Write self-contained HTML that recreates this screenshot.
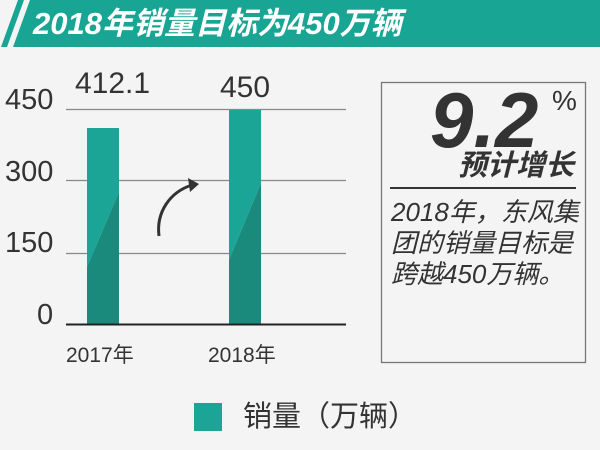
<!DOCTYPE html>
<html><head><meta charset="utf-8"><style>
html,body{margin:0;padding:0}
body{width:600px;height:450px;background:#f4f4f4;position:relative;overflow:hidden;font-family:"Liberation Sans","Noto Sans CJK SC",sans-serif;color:#333}
.a{position:absolute;white-space:nowrap}
</style></head><body>
<svg class="a" style="left:0;top:0" width="600" height="450">
<polygon points="30,0 600,0 600,47 13,47" fill="#19a594"/>
<polygon points="18,0 24,0 7,47 1,47" fill="#19a594"/>
<g stroke="#888" stroke-width="1.3">
<line x1="66" y1="109.5" x2="346" y2="109.5"/>
<line x1="66" y1="180.5" x2="346" y2="180.5"/>
<line x1="66" y1="253.5" x2="346" y2="253.5"/>
</g>
<polygon points="87,128 119,128 119,192 87,267" fill="#1aa596"/>
<polygon points="87,267 119,192 119,325 87,325" fill="#1a8a7d"/>
<polygon points="229,110 261,110 261,183 229,260" fill="#1aa596"/>
<polygon points="229,260 261,183 261,325 229,325" fill="#1a8a7d"/>
<line x1="66" y1="324.5" x2="346" y2="324.5" stroke="#222" stroke-width="2"/>
<path d="M159,236 C156,212 170,192 192,185" fill="none" stroke="#333" stroke-width="3"/>
<polygon points="199,184 188,178 190,192" fill="#333"/>
<rect x="381.5" y="82.5" width="204" height="280" fill="none" stroke="#777" stroke-width="1.3"/>
<line x1="390" y1="188" x2="576" y2="188" stroke="#333" stroke-width="2"/>
<rect x="194" y="403" width="28" height="28" fill="#1aa596"/>
</svg>
<div class="a" style="left:33px;top:4px;font-size:31px;font-weight:bold;font-style:italic;color:#fff;line-height:40px">2018年销量目标为450万辆</div>
<div class="a" style="left:5px;top:82px;font-size:29px;color:#333;line-height:36px">450</div>
<div class="a" style="left:5px;top:154px;font-size:29px;color:#333;line-height:36px">300</div>
<div class="a" style="left:5px;top:225px;font-size:29px;color:#333;line-height:36px">150</div>
<div class="a" style="left:37px;top:297px;font-size:29px;color:#333;line-height:36px">0</div>
<div class="a" style="left:75px;top:66px;font-size:30px;color:#333;line-height:36px">412.1</div>
<div class="a" style="left:220px;top:70px;font-size:30px;color:#333;line-height:36px">450</div>
<div class="a" style="left:66px;top:342px;font-size:21px;color:#333;line-height:28px">2017年</div>
<div class="a" style="left:208px;top:342px;font-size:21px;color:#333;line-height:28px">2018年</div>
<div class="a" style="left:243px;top:399px;font-size:29px;color:#333;line-height:36px">销量（万辆）</div>
<div class="a" style="left:430px;top:80px;font-size:78px;font-weight:bold;font-style:italic;color:#333;line-height:80px">9.2</div>
<div class="a" style="left:552px;top:86px;font-size:28px;color:#333;line-height:30px">%</div>
<div class="a" style="left:458px;top:149px;font-size:29px;font-weight:bold;font-style:italic;color:#333;line-height:34px">预计增长</div>
<div class="a" style="left:391px;top:197px;font-size:26px;font-style:italic;color:#333;line-height:31px">2018年，东风集<br>团的销量目标是<br>跨越450万辆。</div>
</body></html>
